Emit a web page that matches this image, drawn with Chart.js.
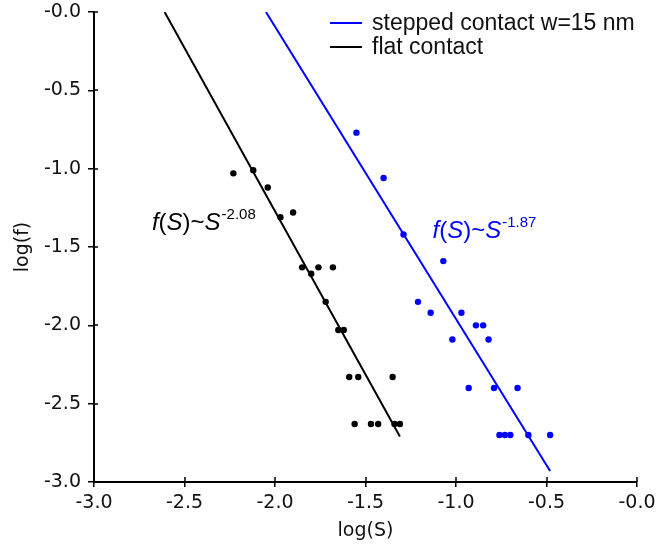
<!DOCTYPE html>
<html>
<head>
<meta charset="utf-8">
<script src="https://cdn.jsdelivr.net/npm/chart.js@4.4.1/dist/chart.umd.min.js"></script>
<style>
  html, body { margin: 0; padding: 0; background: #fff; }
  #wrap { width: 657px; height: 552px; }
</style>
</head>
<body>
<div id="wrap"><canvas id="fit-chart" width="657" height="552"></canvas></div>
<script>
// datos (log-log)
const blackX = [-2.23, -2.12, -2.04, -1.97, -1.90, -1.85, -1.80, -1.76, -1.68, -1.72, -1.65, -1.62, -1.59, -1.54, -1.35, -1.56, -1.47, -1.43, -1.34, -1.31];
const blackY = [-1.03, -1.01, -1.12, -1.31, -1.28, -1.63, -1.67, -1.63, -1.63, -1.85, -2.03, -2.03, -2.33, -2.33, -2.33, -2.63, -2.63, -2.63, -2.63, -2.63];
const blueX = [-1.55, -1.40, -1.29, -1.07, -1.21, -1.14, -0.97, -0.89, -0.85, -1.02, -0.82, -0.93, -0.79, -0.66, -0.76, -0.73, -0.70, -0.60, -0.48];
const blueY = [-0.77, -1.06, -1.42, -1.59, -1.85, -1.92, -1.92, -2.00, -2.00, -2.09, -2.09, -2.40, -2.40, -2.40, -2.70, -2.70, -2.70, -2.70, -2.70];

// rectas de ajuste (extremos)
const blackFitX = [-2.61, -1.31];
const blackFitY = [0.0, -2.71];
const blueFitX = [-2.05, -0.48];
const blueFitY = [0.0, -2.93];

const xTickLabels = ['-3.0', '-2.5', '-2.0', '-1.5', '-1.0', '-0.5', '-0.0'];
const yTickLabels = ['-3.0', '-2.5', '-2.0', '-1.5', '-1.0', '-0.5', '-0.0'];

const seriesLabels = ['stepped contact w=15 nm', 'flat contact'];
const exponents = ['-1.87', '-2.08'];

const BLUE = '#0000ff';
const BLACK = '#000000';

function pts(xs, ys) {
    return xs.map((x, i) => ({ x: x, y: ys[i] }));
}

// leyenda dentro del area del grafico
const legendInside = {
    id: 'legendInside',
    afterDraw(chart) {
        const ctx = chart.ctx;
        const lines = chart.data.datasets.filter(d => d.showLine);
        ctx.save();
        ctx.font = '23px "Liberation Sans", Arial, sans-serif';
        ctx.textBaseline = 'middle';
        ctx.fillStyle = '#111';
        lines.forEach((d, i) => {
            const y = 23 + i * 24;
            ctx.strokeStyle = d.borderColor;
            ctx.lineWidth = 2;
            ctx.beginPath();
            ctx.moveTo(330, y);
            ctx.lineTo(362, y);
            ctx.stroke();
            ctx.fillText(d.label, 372, y + 1);
        });
        ctx.restore();
    }
};

// textos f(S)~S^exp
function drawPowerLaw(ctx, x, y, exp, color) {
    const parts = [
        ['f', 'italic'], ['(', 'normal'], ['S', 'italic'], [')~', 'normal'], ['S', 'italic']
    ];
    ctx.fillStyle = color;
    ctx.textBaseline = 'alphabetic';
    ctx.textAlign = 'left';
    let cx = x;
    parts.forEach(p => {
        ctx.font = p[1] + ' 24px "Liberation Sans", Arial, sans-serif';
        ctx.fillText(p[0], cx, y);
        cx += ctx.measureText(p[0]).width;
    });
    ctx.font = '15px "Liberation Sans", Arial, sans-serif';
    ctx.fillText(exp, cx + 1, y - 11);
}

const annotations = {
    id: 'annotations',
    afterDraw(chart) {
        const ctx = chart.ctx;
        const xs = chart.scales.x, ys = chart.scales.y;
        ctx.save();
        drawPowerLaw(ctx, xs.getPixelForValue(-2.68), ys.getPixelForValue(-1.39), exponents[1], BLACK);
        drawPowerLaw(ctx, xs.getPixelForValue(-1.13), ys.getPixelForValue(-1.44), exponents[0], BLUE);
        ctx.restore();
    }
};

// marcas de ticks hacia dentro
const innerTicks = {
    id: 'innerTicks',
    afterDraw(chart) {
        const ctx = chart.ctx;
        const xs = chart.scales.x, ys = chart.scales.y;
        ctx.save();
        ctx.strokeStyle = BLACK;
        ctx.lineWidth = 1.5;
        xs.ticks.forEach(t => {
            const px = Math.round(xs.getPixelForValue(t.value));
            ctx.beginPath();
            ctx.moveTo(px, ys.bottom);
            ctx.lineTo(px, ys.bottom - 5);
            ctx.stroke();
        });
        ys.ticks.forEach(t => {
            const py = Math.round(ys.getPixelForValue(t.value));
            ctx.beginPath();
            ctx.moveTo(xs.left, py);
            ctx.lineTo(xs.left + 4, py);
            ctx.stroke();
        });
        ctx.restore();
    }
};

const ctx = document.getElementById('fit-chart').getContext('2d');
new Chart(ctx, {
    type: 'scatter',
    data: {
        datasets: [
            {
                label: seriesLabels[0],
                data: pts(blueFitX, blueFitY),
                showLine: true,
                borderColor: BLUE,
                borderWidth: 2,
                pointRadius: 0,
                order: 2
            },
            {
                label: seriesLabels[1],
                data: pts(blackFitX, blackFitY),
                showLine: true,
                borderColor: BLACK,
                borderWidth: 2,
                pointRadius: 0,
                order: 2
            },
            {
                label: 'stepped points',
                data: pts(blueX, blueY),
                backgroundColor: BLUE,
                borderWidth: 0,
                pointRadius: 3.2,
                order: 1
            },
            {
                label: 'flat points',
                data: pts(blackX, blackY),
                backgroundColor: BLACK,
                borderWidth: 0,
                pointRadius: 3.2,
                order: 1
            }
        ]
    },
    options: {
        responsive: false,
        animation: false,
        layout: { padding: { top: 12, right: 20, left: 12, bottom: 10 } },
        plugins: {
            legend: { display: false },
            tooltip: { enabled: false }
        },
        scales: {
            x: {
                type: 'linear',
                min: -3,
                max: 0,
                afterBuildTicks: s => { s.ticks = xTickLabels.map((l, i) => ({ value: -3 + i * 0.5 })); },
                afterFit: s => { s.height = 60; s.paddingLeft = 0; s.paddingRight = 0; },
                ticks: {
                    callback: (v, i) => xTickLabels[i],
                    color: '#111',
                    font: { family: '"DejaVu Sans"', size: 19 },
                    padding: 5,
                    maxRotation: 0
                },
                grid: { drawOnChartArea: false, drawTicks: true, tickLength: 5, color: BLACK, lineWidth: 1.5 },
                border: { display: true, color: BLACK, width: 2 },
                title: {
                    display: true,
                    text: 'log(S)',
                    color: '#111',
                    font: { family: '"DejaVu Sans"', size: 19 },
                    padding: { top: 0, bottom: 0 }
                }
            },
            y: {
                type: 'linear',
                min: -3,
                max: 0,
                afterBuildTicks: s => { s.ticks = yTickLabels.map((l, i) => ({ value: -3 + i * 0.5 })); },
                afterFit: s => { s.width = 82; s.paddingTop = 0; s.paddingBottom = 0; },
                ticks: {
                    callback: (v, i) => yTickLabels[i],
                    color: '#111',
                    font: { family: '"DejaVu Sans"', size: 19 },
                    padding: 7
                },
                grid: { drawOnChartArea: false, drawTicks: true, tickLength: 6, color: BLACK, lineWidth: 1.5 },
                border: { display: true, color: BLACK, width: 2 },
                title: {
                    display: true,
                    text: 'log(f)',
                    color: '#111',
                    font: { family: '"DejaVu Sans"', size: 19 },
                    padding: { top: 0, bottom: 0 }
                }
            }
        }
    },
    plugins: [legendInside, annotations, innerTicks]
});
</script>
</body>
</html>
